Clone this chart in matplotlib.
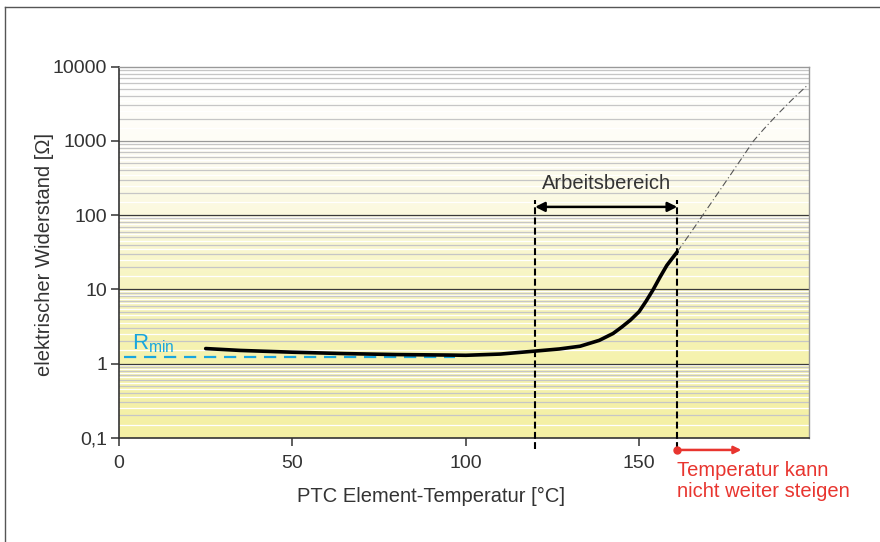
import numpy as np
import matplotlib
matplotlib.use("Agg")
import matplotlib.pyplot as plt
from matplotlib.ticker import FixedLocator, FixedFormatter, LogLocator, NullFormatter
from matplotlib.colors import LinearSegmentedColormap
from matplotlib.lines import Line2D

plt.rcParams['font.family'] = ['Liberation Sans', 'DejaVu Sans']
plt.rcParams['mathtext.fontset'] = 'custom'
plt.rcParams['mathtext.rm'] = 'Liberation Sans'
plt.rcParams['mathtext.it'] = 'Liberation Sans'

# ---------------- data ----------------
temp_main = [25, 35, 50, 65, 80, 95, 100, 110, 120, 127, 133, 138.5, 142.5, 145, 147.5,
             150, 152, 154, 156, 158, 161]
res_main = [1.59, 1.5, 1.42, 1.36, 1.32, 1.3, 1.29, 1.34, 1.47, 1.57, 1.71, 2.05, 2.54, 3.1, 3.85,
            5.0, 6.9, 9.8, 14.5, 21, 32]

temp_ext = [161, 165, 170, 176, 183, 186, 190, 194, 198.5]
res_ext = [32, 59, 129, 330, 1000, 1450, 2300, 3550, 5600]

rmin_value = 1.24
rmin_range = [1.3, 97]

work_range = [120, 161]
work_arrow_level = 129
limit_temp = 161
limit_arrow_end = 179.5

x_ticks = [0, 50, 100, 150]
y_ticks = [0.1, 1, 10, 100, 1000, 10000]
y_tick_labels = ['0,1', '1', '10', '100', '1000', '10000']

xlim = (0, 199)
ylim = (0.1, 10000)

dark = '#333333'
blue = '#19a6de'
red = '#e8352f'

fig = plt.figure(figsize=(8.8, 5.42), dpi=100)
ax = fig.add_axes([119/880, 1-437.7/542, 690/880, 371/542])
ax.set_xlim(*xlim)
ax.set_yscale('log')
ax.set_ylim(*ylim)

# background gradient
cmap = LinearSegmentedColormap.from_list('bg', [
    (0.0, '#f4f0a4'), (0.2, '#f5f2ad'), (0.4, '#f7f4be'),
    (0.6, '#fbf9de'), (0.8, '#fefdf6'), (1.0, '#ffffff')])
grad = np.linspace(0, 1, 256).reshape(-1, 1)
ax.imshow(grad, extent=[0, 1, 0, 1], transform=ax.transAxes, aspect='auto',
          cmap=cmap, origin='lower', zorder=0)

# minor grid (gray) and light white lines between
ax.yaxis.set_minor_locator(LogLocator(base=10, subs=np.arange(2, 10)))
ax.yaxis.set_minor_formatter(NullFormatter())
ax.grid(which='minor', axis='y', color='#c6c6c6', lw=0.9, zorder=1)
for d in [0.1, 1, 10, 100, 1000]:
    for s in np.arange(1.5, 10, 1.0):
        ax.axhline(d * s, color='white', lw=0.9, zorder=1)
for v in y_ticks[1:-1]:
    ax.axhline(v, color=('#999999' if v >= 1000 else '#3a3a3a'), lw=0.9, zorder=2)

# ticks
ax.yaxis.set_major_locator(FixedLocator(y_ticks))
ax.yaxis.set_major_formatter(FixedFormatter(y_tick_labels))
ax.set_xticks(x_ticks)
ax.set_xticklabels([str(t) for t in x_ticks])
ax.tick_params(axis='both', which='major', direction='out', length=5.5, width=1.1,
               color=dark, labelcolor=dark, labelsize=14)
ax.tick_params(axis='y', which='major', pad=3)
ax.tick_params(axis='x', which='major', pad=7)
ax.tick_params(axis='y', which='minor', length=0)

for s in ['left', 'bottom']:
    ax.spines[s].set_color(dark)
    ax.spines[s].set_linewidth(1.2)
for s in ['top', 'right']:
    ax.spines[s].set_color('#999999')
    ax.spines[s].set_linewidth(1.0)

# Rmin dashed
ax.plot(rmin_range, [rmin_value, rmin_value], color=blue, lw=1.6,
        linestyle=(0, (5.5, 3.5)), zorder=4, solid_capstyle='butt')
ax.text(3.8, 1.55, r'$\mathrm{R}_{\mathrm{min}}$', color=blue, fontsize=16, zorder=6)

# main curve
ax.plot(temp_main, res_main, color='black', lw=2.6, zorder=5,
        solid_capstyle='round', solid_joinstyle='round')
# extension (dash-dot)
ax.plot(temp_ext, res_ext, color='#555555', lw=0.8, linestyle=(0, (6, 2.5, 1, 2.5)), zorder=5)

# working range vertical dashed lines
def frac(v):
    return (np.log10(v) - np.log10(ylim[0])) / (np.log10(ylim[1]) - np.log10(ylim[0]))

top_frac = frac(work_arrow_level) + 0.018
for xv in work_range:
    ax.axvline(xv, ymin=-0.03, ymax=top_frac, color='black', lw=1.5,
               linestyle=(0, (3.3, 1.6)), zorder=6, clip_on=False)

ax.annotate('', xy=(work_range[0], work_arrow_level), xytext=(work_range[1], work_arrow_level),
            arrowprops=dict(arrowstyle='<|-|>', color='black', lw=1.8, shrinkA=0, shrinkB=0,
                            mutation_scale=14), zorder=7)
ax.text(sum(work_range) / 2, 200, 'Arbeitsbereich', ha='center', va='bottom',
        fontsize=14.5, color=dark, zorder=7)

# limit red arrow below axis
bt = ax.get_xaxis_transform()
ax.annotate('', xy=(limit_arrow_end, -0.033), xytext=(limit_temp, -0.033),
            xycoords=bt, textcoords=bt,
            arrowprops=dict(arrowstyle='-|>', color=red, lw=1.8, shrinkA=0, shrinkB=0,
                            mutation_scale=11),
            annotation_clip=False)
ax.plot([limit_temp], [-0.033], 'o', color=red, ms=5, transform=bt, clip_on=False, zorder=8)
ax.text(limit_temp - 0.2, -0.062, 'Temperatur kann\nnicht weiter steigen', transform=bt,
        ha='left', va='top', fontsize=14.5, color=red, linespacing=1.15)

# axis labels
fig.text(431/880, 1-496/542, 'PTC Element-Temperatur [°C]', ha='center', va='center',
         fontsize=14.5, color=dark)
fig.text(44/880, 1-254/542, 'elektrischer Widerstand [Ω]', ha='center', va='center',
         rotation=90, fontsize=14.5, color=dark)

# outer frame lines
fig.add_artist(Line2D([5/880, 5/880], [0, 1-6.7/542], transform=fig.transFigure,
                      color='#555555', lw=1.0))
fig.add_artist(Line2D([5/880, 1], [1-6.7/542, 1-6.7/542], transform=fig.transFigure,
                      color='#555555', lw=1.0))

fig.savefig('out.png', dpi=100)
